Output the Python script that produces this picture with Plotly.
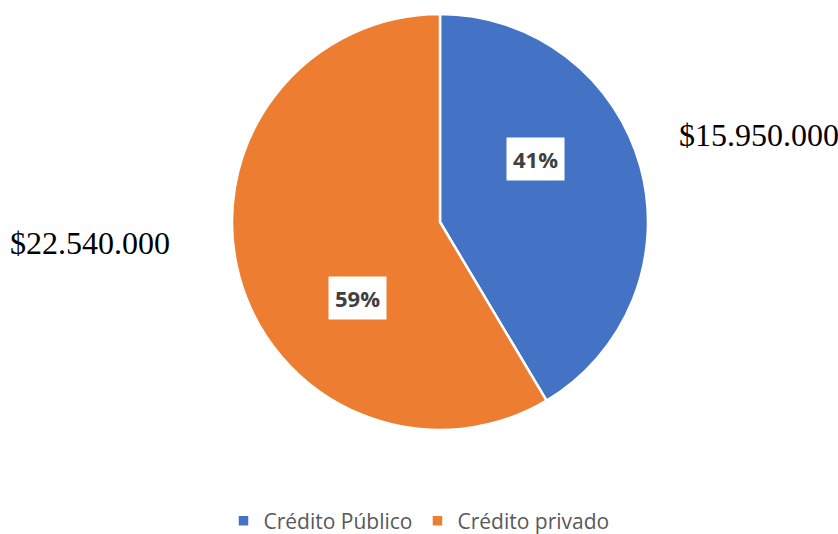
import plotly.graph_objects as go

categories = ["Crédito Público", "Crédito privado"]
values = [15950000, 22540000]
value_labels = ["$15.950.000", "$22.540.000"]
colors = ["#4472C4", "#ED7D31"]

W, H = 838, 534
cx, cy, r = 440, 222, 208

total = sum(values)
pcts = [f"{round(v / total * 100)}%" for v in values]

fig = go.Figure()
fig.add_trace(go.Pie(
    labels=categories,
    values=values,
    sort=False,
    direction="clockwise",
    rotation=0,
    marker=dict(colors=colors, line=dict(color="white", width=2.5)),
    textinfo="none",
    hoverinfo="label+value+percent",
    domain=dict(x=[(cx - r) / W, (cx + r) / W], y=[(H - cy - r) / H, (H - cy + r) / H]),
))

# percentage labels (Excel-style boxed data labels)
pct_pos = [(535, 159), (357, 298)]
for (px, py), t in zip(pct_pos, pcts):
    fig.add_annotation(
        x=px / W, y=1 - py / H, xref="paper", yref="paper",
        xanchor="center", yanchor="middle",
        text=f"<b>{t}</b>", showarrow=False,
        font=dict(family="Open Sans, Arial, sans-serif", size=22, color="#404040"),
        bgcolor="white", borderpad=6,
    )

# value labels outside the pie
val_pos = [(759, 135), (90, 243)]
for (px, py), t in zip(val_pos, value_labels):
    fig.add_annotation(
        x=px / W, y=1 - py / H, xref="paper", yref="paper",
        xanchor="center", yanchor="middle",
        text=t, showarrow=False,
        font=dict(family="Liberation Serif, Times New Roman, serif", size=32, color="black"),
    )

fig.update_layout(
    width=W, height=H,
    margin=dict(l=0, r=0, t=0, b=0, autoexpand=False),
    paper_bgcolor="white", plot_bgcolor="white",
    showlegend=True,
    legend=dict(
        orientation="h", x=0.5, xanchor="center", y=1 - 521 / H, yanchor="middle",
        font=dict(family="Open Sans, Arial, sans-serif", size=21, color="#595959"),
        traceorder="normal",
    ),
)

fig.write_html("out.html", config={"displayModeBar": False},
               post_script="document.body.style.margin='0';")
